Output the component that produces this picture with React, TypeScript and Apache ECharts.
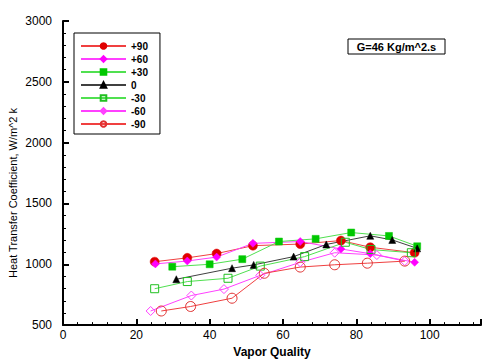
import React, { useEffect, useRef } from "react";
import * as echarts from "echarts";

const seriesNames = ["+90", "+60", "+30", "0", "-30", "-60", "-90"];

const s90: [number, number][] = [[25, 1021], [33.9, 1053], [41.9, 1088], [51.8, 1153], [64.7, 1166], [75.8, 1195], [83.8, 1140], [95.9, 1095]];
const s60: [number, number][] = [[25.2, 1003], [33.9, 1027], [41.9, 1059], [51.8, 1172], [64.7, 1187], [75.8, 1126], [83.8, 1087], [95.9, 1016]];
const s30: [number, number][] = [[29.8, 980], [40, 1000], [48.9, 1042], [58.9, 1187], [68.9, 1209], [78.6, 1261], [88.9, 1233], [96.6, 1148]];
const s0: [number, number][] = [[30.9, 877], [46.1, 968], [52, 995], [62.9, 1063], [71.8, 1163], [83.8, 1234], [89.8, 1200], [96.6, 1131]];
const sm30: [number, number][] = [[25, 799], [33.9, 858], [45, 885], [53.8, 985], [65.9, 1063], [77, 1181], [84, 1121], [95, 1095]];
const sm60: [number, number][] = [[23.9, 616], [35, 743], [43.9, 796], [53.8, 909], [64.7, 1016], [74.1, 1095], [85.6, 1076], [93.2, 1026]];
const sm90: [number, number][] = [[26.8, 616], [34.8, 653], [46.1, 721], [54.9, 926], [64.7, 977], [74.1, 996], [83, 1009], [93.2, 1026]];

const xTicks = [0, 20, 40, 60, 80, 100];
const yTicks = [500, 1000, 1500, 2000, 2500, 3000];
const annotation = "G=46 Kg/m^2.s";
const yTitle = "Heat Transfer Coefficient, W/m^2 k";
const xTitle = "Vapor Quality";

const FONT = "Liberation Sans, Arial, Helvetica, sans-serif";
const X_MIN = 0, X_MAX = 114, Y_MIN = 500, Y_MAX = 3000;

export default function App() {
  const ref = useRef<HTMLDivElement>(null);
  useEffect(() => {
    if (!ref.current) return;
    const chart = echarts.init(ref.current, undefined, { renderer: "svg" });
    const defs = [
      { data: s90, color: "#e00000", line: "#f04040", symbol: "circle", size: 9, open: false },
      { data: s60, color: "#ff00ff", line: "#ff40ff", symbol: "diamond", size: 8, open: false },
      { data: s30, color: "#00c800", line: "#50e050", symbol: "rect", size: 7, open: false },
      { data: s0, color: "#000000", line: "#404040", symbol: "triangle", size: 7, open: false },
      { data: sm30, color: "#20c020", line: "#50e050", symbol: "rect", size: 8, open: true },
      { data: sm60, color: "#ff40ff", line: "#ff40ff", symbol: "diamond", size: 9, open: true },
      { data: sm90, color: "#e03030", line: "#f04040", symbol: "circle", size: 10, open: true },
    ];
    const tickCommon = {
      axisTick: { show: true, inside: true, length: 6, lineStyle: { color: "#000", width: 2, opacity: 1 } },
      minorTick: { show: true, splitNumber: 5, length: 3, lineStyle: { color: "#000", width: 1, opacity: 1 } },
    };
    chart.setOption({
      animation: false,
      backgroundColor: "#fff",
      grid: { left: 63, right: 2, top: 21, bottom: 26, containLabel: false },
      xAxis: {
        type: "value",
        min: X_MIN,
        max: X_MAX,
        interval: 20,
        axisLine: { show: true, onZero: false, lineStyle: { color: "#000", width: 2 } },
        ...tickCommon,
        splitLine: { show: false },
        axisLabel: {
          color: "#000",
          fontSize: 12,
          fontFamily: FONT,
          margin: 4,
          showMaxLabel: false,
          formatter: (v: number) => (xTicks.includes(v) ? String(v) : ""),
        },
        name: xTitle,
        nameLocation: "middle",
        nameGap: 14,
        nameTextStyle: { color: "#000", fontSize: 12, fontWeight: "bold", fontFamily: FONT },
      },
      yAxis: {
        type: "value",
        min: Y_MIN,
        max: Y_MAX,
        interval: 500,
        axisLine: { show: true, onZero: false, lineStyle: { color: "#000", width: 2 } },
        ...tickCommon,
        splitLine: { show: false },
        axisLabel: {
          color: "#000",
          fontSize: 12,
          fontFamily: FONT,
          margin: 11,
          formatter: (v: number) => (yTicks.includes(v) ? String(v) : ""),
        },
      },
      legend: {
        orient: "vertical",
        left: 74,
        top: 33,
        padding: [8, 12, 5, 6],
        itemWidth: 45,
        itemHeight: 7,
        itemGap: 3,
        borderColor: "#000",
        borderWidth: 1,
        backgroundColor: "#fff",
        data: seriesNames,
        textStyle: { color: "#000", fontSize: 10, fontWeight: "bold", fontFamily: FONT },
      },
      graphic: [
        {
          type: "rect",
          shape: { x: 348, y: 39, width: 97, height: 15 },
          style: { fill: "#fff", stroke: "#000", lineWidth: 1 },
        },
        {
          type: "text",
          x: 396.5,
          y: 46.5,
          style: {
            text: annotation,
            fill: "#000",
            font: `bold 11px ${FONT}`,
            textAlign: "center",
            textVerticalAlign: "middle",
          },
        },
        {
          type: "text",
          x: 13,
          y: 193,
          rotation: Math.PI / 2,
          style: {
            text: yTitle,
            fill: "#000",
            font: `11px ${FONT}`,
            textAlign: "center",
            textVerticalAlign: "middle",
          },
        },
      ],
      series: defs.map((d, i) => ({
        name: seriesNames[i],
        type: "line",
        data: d.data,
        symbol: d.symbol,
        symbolSize: d.size,
        showAllSymbol: true,
        lineStyle: { color: d.line, width: 1 },
        itemStyle: d.open
          ? { color: "rgba(255,255,255,0)", borderColor: d.color, borderWidth: 1 }
          : { color: d.color, borderColor: d.color, borderWidth: 0.5 },
        emphasis: { disabled: true },
      })),
    });
    return () => chart.dispose();
  }, []);
  return <div ref={ref} style={{ width: 483, height: 363, position: "absolute", left: 0, top: 0 }} />;
}
